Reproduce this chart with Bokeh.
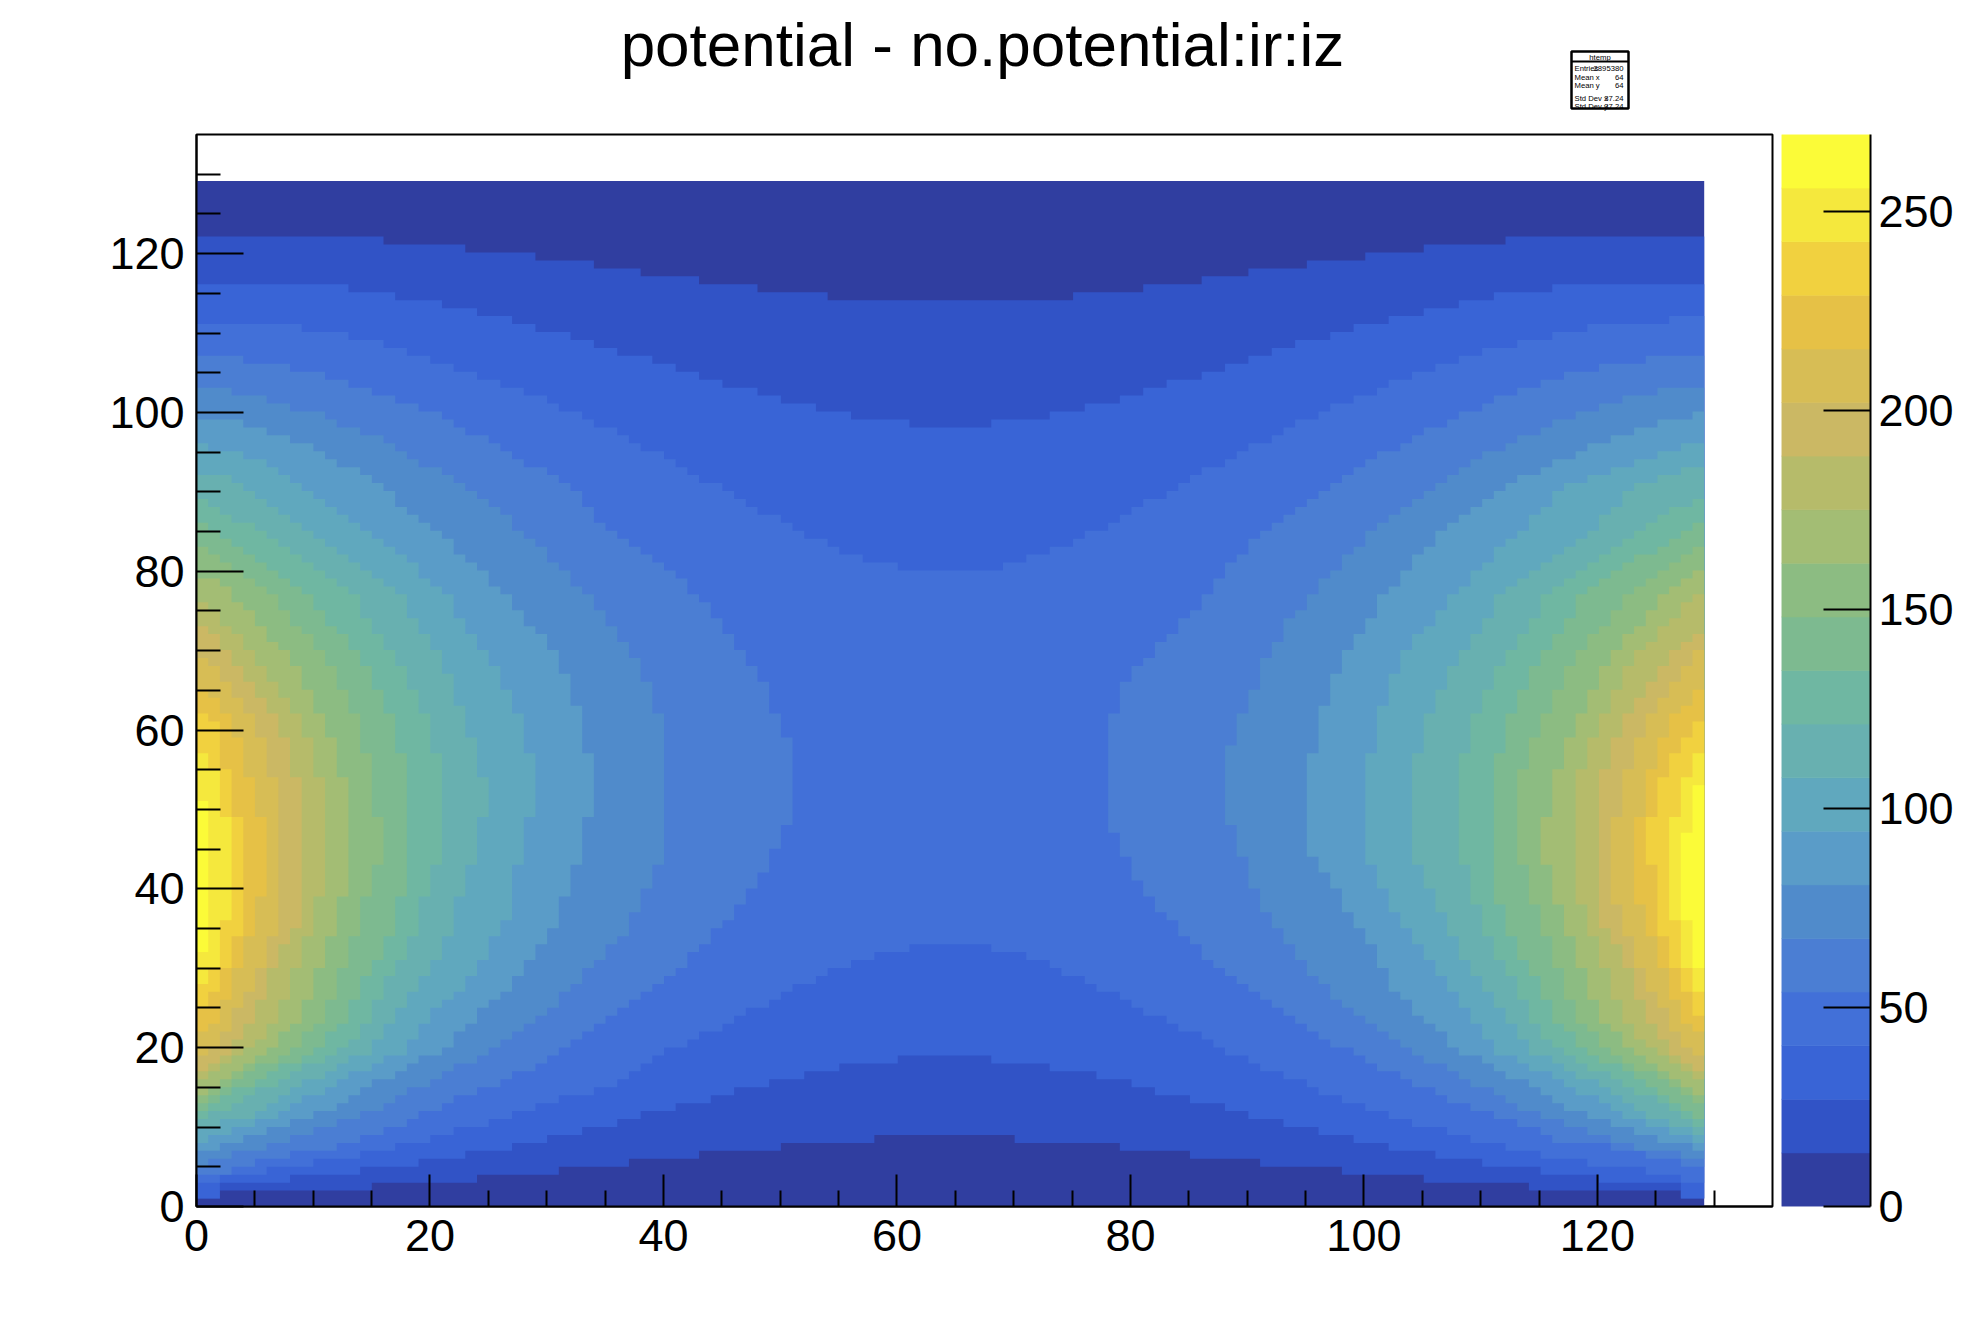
import numpy as np
from bokeh.core.properties import value
from bokeh.embed import file_html
from bokeh.layouts import column, row
from bokeh.models import FixedTicker
from bokeh.plotting import figure
from bokeh.resources import INLINE

TITLE = "potential - no.potential:ir:iz"
STAT_TITLE = "htemp"
STAT_NAMES = ["Entries", "Mean x", "Mean y", "Std Dev x", "Std Dev y"]
STAT_VALUES = ["2895380", "64", "64", "37.24", "37.24"]
X_TICKS = [0, 20, 40, 60, 80, 100, 120]
X_MINOR = [5, 10, 15, 25, 30, 35, 45, 50, 55, 65, 70, 75, 85, 90, 95, 105, 110, 115, 125, 130]
Y_TICKS = [0, 20, 40, 60, 80, 100, 120]
Y_MINOR = [5, 10, 15, 25, 30, 35, 45, 50, 55, 65, 70, 75, 85, 90, 95, 105, 110, 115, 125, 130]
Z_TICKS = [0, 50, 100, 150, 200, 250]
Z_MAX = 269.4
BAND_COLORS = ["#303ea0", "#3153c6", "#3964d6", "#4270d8", "#4b7ed3", "#508bcb", "#5a9cc8",
               "#60a8be", "#68b0b0", "#6fb7a2", "#7dba90", "#8cbc82", "#a3bd74", "#b6bb6a",
               "#cbb864", "#d7bd55", "#e6c146", "#f1d13f", "#f5e83d", "#fbfb38"]

# Contours: levels 1-3 span the whole width (top and bottom edge)
K1_TOP = [(0,122),(16,121.5),(23,120.5),(29,119.5),(34,118.5),(38,117.5),(43,116.5),(48,115.5),(54,114.5),(64.5,114),(75,114.5),(81,115.5),(86,116.5),(90,117.5),(95,118.5),(100,119.5),(105,120.5),(112,121.5),(129,122)]
K1_BOT = [(0,1),(2,1.5),(15,2.5),(24,3.5),(31,4.5),(37,5.5),(43,6.5),(50,7.5),(58,8.5),(64,9),(70,8.5),(79,7.5),(85,6.5),(91,5.5),(98,4.5),(105,3.5),(114,2.5),(127,1.5),(129,1)]
K2_TOP = [(0,116),(13,115.5),(17,114.5),(21,113.5),(24,112.5),(27,111.5),(29,110.5),(32,109.5),(34,108.5),(36,107.5),(39,106.5),(41,105.5),(43,104.5),(45,103.5),(48,102.5),(50,101.5),(53,100.5),(56,99.5),(61,98.5),(64.5,98),(68,98.5),(73,99.5),(76,100.5),(79,101.5),(81,102.5),(83,103.5),(86,104.5),(88,105.5),(90,106.5),(92,107.5),(94,108.5),(97,109.5),(99,110.5),(102,111.5),(105,112.5),(108,113.5),(111,114.5),(116,115.5),(129,116)]
K2_BOT = [(0,1),(2,1.5),(2,2.5),(8,3.5),(14,4.5),(19,5.5),(23,6.5),(27,7.5),(30,8.5),(33,9.5),(36,10.5),(38,11.5),(41,12.5),(44,13.5),(46,14.5),(49,15.5),(52,16.5),(55,17.5),(60,18.5),(64,19),(68,18.5),(73,17.5),(77,16.5),(80,15.5),(82,14.5),(85,13.5),(88,12.5),(90,11.5),(93,10.5),(96,9.5),(99,8.5),(102,7.5),(106,6.5),(110,5.5),(115,4.5),(120,3.5),(127,2.5),(127,1.5),(129,1)]
K3_TOP = [(0,111),(9,110.5),(13,109.5),(16,108.5),(18,107.5),(20,106.5),(22,105.5),(24,104.5),(26,103.5),(28,102.5),(30,101.5),(31,100.5),(33,99.5),(34,98.5),(36,97.5),(37,96.5),(38,95.5),(40,94.5),(41,93.5),(42,92.5),(43,91.5),(45,90.5),(46,89.5),(47,88.5),(48,87.5),(50,86.5),(51,85.5),(52,84.5),(54,83.5),(55,82.5),(57,81.5),(60,80.5),(64.5,80),(69,80.5),(71,81.5),(73,82.5),(75,83.5),(76,84.5),(78,85.5),(79,86.5),(80,87.5),(81,88.5),(83,89.5),(84,90.5),(85,91.5),(86,92.5),(88,93.5),(89,94.5),(90,95.5),(92,96.5),(93,97.5),(94,98.5),(96,99.5),(97,100.5),(99,101.5),(101,102.5),(102,103.5),(104,104.5),(106,105.5),(108,106.5),(110,107.5),(113,108.5),(116,109.5),(119,110.5),(126,111.5),(129,112)]
K3_BOT = [(0,3),(2,3.5),(6,4.5),(10,5.5),(14,6.5),(17,7.5),(20,8.5),(22,9.5),(25,10.5),(27,11.5),(29,12.5),(31,13.5),(34,14.5),(36,15.5),(37,16.5),(39,18.5),(40,19.5),(42,20.5),(43,21.5),(45,22.5),(46,23.5),(47,24.5),(49,25.5),(50,26.5),(51,27.5),(53,28.5),(54,29.5),(56,30.5),(58,31.5),(61,32.5),(64.5,33),(68,32.5),(71,31.5),(73,30.5),(74,29.5),(76,28.5),(77,27.5),(79,26.5),(80,25.5),(81,24.5),(83,23.5),(84,22.5),(86,21.5),(87,20.5),(88,19.5),(90,18.5),(91,17.5),(93,16.5),(95,15.5),(96,14.5),(98,13.5),(100,12.5),(102,11.5),(104,10.5),(107,9.5),(109,8.5),(112,7.5),(115,6.5),(119,5.5),(124,4.5),(127,3.5),(129,3.5)]

# Levels 4-19 form two separate blobs: one on the left edge, one on the right edge
L4 = [(0,107),(4,106.5),(8,105.5),(11,104.5),(13,103.5),(15,102.5),(17,101.5),(19,100.5),(21,99.5),(22,98.5),(23,97.5),(25,96.5),(26,95.5),(27,94.5),(28,93.5),(30,92.5),(31,91.5),(32,90.5),(33,89),(34,87),(35,86),(36,85),(37,84),(38,83),(39,81.5),(40,80.5),(41,79.5),(42,78),(43,76.5),(44,75),(45,73),(46,71),(47,69),(48,67),(49,64.5),(50,60.5),(51,58),(51,50),(50,46),(49,43),(48,41),(47,39),(46,37),(45,35),(44,34),(43,32),(42,31),(41,29),(40,28.5),(39,27.8),(38,26.8),(37,25.8),(36,24.8),(35,22.8),(33,21.8),(32,20.9),(31,19.9),(30,18.9),(29,17.8),(28,16.8),(26,15.8),(25,14.8),(23,13.8),(21,12.8),(20,11.8),(18,10.8),(17,9.8),(15,8.8),(13,7.8),(9,6.9),(6,5.9),(4,4.9),(1,3.9),(0,3.9)]
L5 = [(0,103),(3,102.5),(6,101.5),(8,100.5),(11,99.5),(12,98.5),(14,97.5),(16,96.5),(17,95.5),(18,94.5),(19,93.5),(21,92.5),(22,91.5),(23,90.5),(24,89.5),(25,88.5),(26,87.5),(27,86),(28,84.5),(29,83.5),(30,82),(31,80.5),(32,79),(33,77.5),(34,76),(35,74.5),(36,72.5),(37,70),(38,67.5),(39,64),(40,60),(40,45),(39,41),(38,38),(37,35),(36,33),(35,32),(34,30),(33,29),(32,27),(31,26),(30,24.5),(29,23.8),(25,19.6),(19.5,15.4),(14,11.2),(4.5,7),(1,5.5),(0,5)]
L6 = [(0,99),(3,98.9),(5,97.8),(7,96.8),(9,95.8),(11,94.8),(12,93.8),(13,92.8),(15,91.8),(16,90.8),(17,89),(19,87),(20,86),(26,77.6),(31,69.2),(33,60.8),(34,52.4),(33,44.9),(32,40.6),(31,36.4),(29,32.2),(27,28),(24,23.8),(21,19.6),(15,15.4),(10,11.2),(0.5,7),(0,7)]
L7 = [(0,96),(1,95.7),(3,94.8),(5,93.8),(7,92.8),(8,91.8),(9,90.8),(14,86),(21,77.6),(25,69.2),(28,60.8),(29,52.4),(28,44.9),(27,40.6),(26.5,36.4),(25,32.2),(23,28),(20,23.8),(18,19.6),(11.5,15.4),(7,11.2),(0,8)]
L8 = [(0,92),(2,91.8),(4,90.8),(9,86),(17,77.6),(21,69.2),(23,60.8),(25,52.4),(24,44.9),(23,40.6),(22,36.4),(21,32.2),(19,28),(17,23.8),(15,19.6),(9,15.4),(4.5,11.2),(0,10)]
L9 = [(0,89),(4,86),(13,77.6),(17,69.2),(20,60.8),(21,52.4),(21,44.9),(20,40.6),(19,36.4),(18,32.2),(16,28),(15,23.8),(12.5,19.6),(6.5,15.4),(0.5,11),(0,11)]
L10 = [(0,86.2),(1,86),(9,77.6),(14,69.2),(17,60.8),(18,52.4),(18,44.9),(18,40.6),(17,36.4),(16,32.2),(14,28),(13,23.8),(10,19.6),(4.5,15.4),(0,12)]
L11 = [(0,83.2),(1,83),(6,77.6),(11,69.2),(14,60.8),(15,52.4),(16,44.9),(15,40.6),(14,36.4),(13,32.2),(12,28),(11,23.8),(8,19.6),(3,15.4),(0,13)]
L12 = [(0,79.2),(1,79),(2.5,77.6),(8,69.2),(11,60.8),(13,52.4),(13,44.9),(13,40.6),(12,36.4),(11,32.2),(10,28),(9,23.8),(6,19.6),(1.5,15.4),(0,14)]
L13 = [(0,76.2),(1,76),(5,69.2),(9,60.8),(11,52.4),(11,44.9),(11,40.6),(10,36.4),(9,32.2),(8,28),(7,23.8),(4.5,19.6),(0,16)]
L14 = [(0,73.2),(1,73),(3,69.2),(7,60.8),(9,52.4),(9,44.9),(9,40.6),(9,36.4),(7,32.2),(6,28),(5,23.8),(3,19.6),(0,17)]
L15 = [(0,69.2),(1,69),(5,60.8),(7,52.4),(7,44.9),(7,40.6),(7,36.4),(6,32.2),(5,28),(3,23.8),(1.5,19.6),(0,19)]
L16 = [(0,65.2),(1,65),(3,60.8),(5,52.4),(6,44.9),(6,40.6),(5,36.4),(4,32.2),(3,28),(2,23.8),(0,21)]
L17 = [(0,62.2),(1,62),(1.5,60.8),(3,52.4),(4,44.9),(4,40.6),(4,36.4),(3,32.2),(2,28),(0,24)]
L18 = [(0,57.2),(1,57),(2,52.4),(3,44.9),(3,40.6),(2.5,36.4),(2,32.2),(1,28),(0,27)]
L19 = [(1,51),(1,32)]

R4 = [(129,107),(124,106.5),(120,105.5),(117,104.5),(115,103.5),(113,102.5),(111,101.5),(110,100.5),(108,99.5),(107,98.5),(105,97.5),(104,96.5),(103,95.5),(101,94.5),(100,93.5),(99,92.5),(98,91.5),(97,90.5),(96,89.5),(95,88.5),(94,87.5),(93,86.5),(92,85),(91,84),(90,83),(89,81.5),(88,79.5),(84,73),(80,67),(79,64),(78,60),(78,49),(79,45.5),(80,42.5),(81,40.5),(82,38.5),(83,36.5),(84,35.5),(85,33.5),(86,32.5),(87,30.5),(88,29.5),(89,28.5),(90,27.5),(91,26.5),(92,25.5),(93,24.5),(94,23.5),(95,22.5),(96,21.5),(97,20.5),(99,19.5),(100,18.5),(101,17.5),(103,16.5),(104,15.5),(106,14.5),(107,13.5),(109,12.5),(111,11.5),(113,10.5),(115,9.5),(116,8.5),(121,7.5),(124,6.5),(127,5.5),(129,5)]
R5 = [(129,103),(125,102.5),(122,101.5),(120,100.5),(118,99.5),(116,98.5),(115,97.5),(113,96.5),(112,95.5),(110,94.5),(109,93.5),(108,92.5),(107,91.5),(106,90.5),(105,89.5),(104,88.5),(103,87.5),(102,86.5),(101,85.5),(100,83.5),(99,82),(98,81),(97,79.5),(96,78),(95,76),(94,74.5),(93,72.5),(92,70),(91,67),(90,63),(89,60),(88,56),(88,50),(89,47),(90,42),(91,38),(92,36),(93,34),(94,32),(95,30),(96,28.5),(97,27),(98,25.5),(99,24.8),(100,23.8),(104,19.6),(109.5,15.4),(115,11.2),(124,7.2),(129,6)]
R6 = [(129,100),(128,99.5),(125,98.5),(123,97.5),(121,96.5),(119,95.5),(118,94.5),(116,93.5),(115,92.5),(113,91.5),(112,90.5),(107,86),(102,77.6),(98,69.2),(96,60.8),(95,52.4),(95,44.9),(97,40.6),(99,36.4),(101,32.2),(102,28),(105,23.8),(108,19.6),(114,15.4),(119,11.2),(129,7)]
R7 = [(129,96),(127,95.5),(125,94.5),(123,93.5),(121,92.5),(119,91.5),(117,90.5),(114,86),(108,77.6),(103,69.2),(101,60.8),(100,52.4),(100,44.9),(101,40.6),(103,36.4),(105,32.2),(107,28),(109,23.8),(111,19.6),(117.5,15.4),(122,11.2),(129,8)]
R8 = [(129,93),(127,92.5),(125,91.5),(123,90.5),(120,86),(112,77.6),(108,69.2),(105,60.8),(104,52.4),(104,44.9),(105,40.6),(107,36.4),(108,32.2),(110,28),(112,23.8),(114,19.6),(120,15.4),(124.5,11.2),(129,9)]
R9 = [(129,89),(124,86),(116,77.6),(112,69.2),(109,60.8),(108,52.4),(108,44.9),(109,40.6),(110,36.4),(111,32.2),(113,28),(114,23.8),(116.5,19.6),(122.5,15.4),(127,11.2),(129,10)]
R10 = [(129,86),(128,85.5),(119,77.6),(115,69.2),(112,60.8),(111,52.4),(111,44.9),(111,40.6),(112,36.4),(113,32.2),(115,28),(116,23.8),(119,19.6),(124.5,15.4),(129,11)]
R11 = [(129,83),(128,82.5),(123,77.6),(118,69.2),(115,60.8),(113,52.4),(113,44.9),(114,40.6),(115,36.4),(116,32.2),(117,28),(118,23.8),(121,19.6),(126,15.4),(129,12)]
R12 = [(129,80),(128,79.5),(126,77.6),(121,69.2),(118,60.8),(116,52.4),(115,44.9),(116,40.6),(117,36.4),(118,32.2),(119,28),(120,23.8),(123,19.6),(127.5,15.4),(129,14)]
R13 = [(129,77),(128,76.5),(123,69.2),(120,60.8),(118,52.4),(118,44.9),(118,40.6),(119,36.4),(120,32.2),(121,28),(122,23.8),(124.5,19.6),(129,15)]
R14 = [(129,73),(126,69.2),(122,60.8),(120,52.4),(120,44.9),(120,40.6),(120,36.4),(122,32.2),(123,28),(124,23.8),(126,19.6),(129,17)]
R15 = [(129,70),(128,69.2),(124,60.8),(122,52.4),(121,44.9),(121,40.6),(122,36.4),(123,32.2),(124,28),(126,23.8),(127.5,19.6),(129,19)]
R16 = [(129,66),(126,60.8),(124,52.4),(123,44.9),(123,40.6),(124,36.4),(125,32.2),(126,28),(127,23.8),(129,21)]
R17 = [(129,62),(128,60.8),(125,52.4),(124,44.9),(125,40.6),(125,36.4),(126,32.2),(127,28),(128.5,23.8),(129,23)]
R18 = [(129,58),(127,52.4),(126,44.9),(126,40.6),(126.5,36.4),(127,32.2),(128,28),(129,26)]
R19 = [(129,53),(128,52.9),(128,47.5),(127,46.5),(127,36),(128,35.5),(128,30),(129,30)]

N_BINS = 129
DATA_END = 129.15
LEFT_BLOBS = [L4, L5, L6, L7, L8, L9, L10, L11, L12, L13, L14, L15, L16, L17, L18, L19]
RIGHT_BLOBS = [R4, R5, R6, R7, R8, R9, R10, R11, R12, R13, R14, R15, R16, R17, R18, R19]
SPANS = [(K1_TOP, K1_BOT), (K2_TOP, K2_BOT), (K3_TOP, K3_BOT)]


def inside(px, py, poly):
    vx = np.array([p[0] for p in poly], float)
    vy = np.array([p[1] for p in poly], float)
    result = np.zeros(px.shape, bool)
    for i in range(len(vx)):
        j = i - 1
        if vy[i] == vy[j]:
            continue
        crosses = (vy[i] > py) != (vy[j] > py)
        xc = vx[i] + (py - vy[i]) * (vx[j] - vx[i]) / (vy[j] - vy[i])
        result ^= crosses & (px < xc)
    return result


def span_poly(top, bot):
    return [(-1, top[0][1])] + top + [(130, top[-1][1]), (130, bot[-1][1])] + bot[::-1] + [(-1, bot[0][1])]


def side_poly(c, edge):
    return [(edge, c[0][1])] + c + [(edge, c[-1][1])]


def stair_loops(mask):
    """Outlines of a cell mask, as closed loops of cell corners."""
    n = mask.shape[0]
    m = np.zeros((n + 2, n + 2), bool)
    m[1:-1, 1:-1] = mask
    nxt = {}

    def add(a, b):
        nxt.setdefault(a, []).append(b)

    for r, c in zip(*np.nonzero(mask)):
        r, c = int(r), int(c)
        if not m[r, c + 1]:
            add((c, r), (c + 1, r))
        if not m[r + 1, c + 2]:
            add((c + 1, r), (c + 1, r + 1))
        if not m[r + 2, c + 1]:
            add((c + 1, r + 1), (c, r + 1))
        if not m[r + 1, c]:
            add((c, r + 1), (c, r))
    loops = []
    while nxt:
        start = next(iter(nxt))
        loop, cur = [start], start
        while True:
            targets = nxt[cur]
            t = targets.pop()
            if not targets:
                del nxt[cur]
            if t == start:
                break
            loop.append(t)
            cur = t
        loops.append(loop)
    return loops


cx, cy = np.meshgrid(np.arange(N_BINS) + 0.5, np.arange(N_BINS) + 0.5)
band = np.zeros((N_BINS, N_BINS), int)
for k, (top, bot) in enumerate(SPANS, start=1):
    band[inside(cx, cy, span_poly(top, bot))] = k
for k, (lc, rc) in enumerate(zip(LEFT_BLOBS, RIGHT_BLOBS), start=4):
    band[inside(cx, cy, side_poly(lc, -1))] = k
    band[inside(cx, cy, side_poly(rc, 130))] = k

edges = np.linspace(0, DATA_END, N_BINS + 1)
patch_xs, patch_ys, patch_colors = [], [], []
for k, color in enumerate(BAND_COLORS):
    for loop in stair_loops(band >= k):
        patch_xs.append([float(edges[a]) for a, b in loop])
        patch_ys.append([float(edges[b]) for a, b in loop])
        patch_colors.append(color)

FONT = "Liberation Sans"
HEADER_H = 132

p = figure(width=1776, height=1188, x_range=(0, 135), y_range=(0, 135), output_backend="svg",
           toolbar_location=None, min_border_left=196, min_border_right=4, min_border_top=2,
           min_border_bottom=114)
p.grid.visible = False
p.outline_line_color = "black"
p.outline_line_width = 2
p.background_fill_color = "white"
p.patches(patch_xs, patch_ys, fill_color=patch_colors, line_color=None)

p.xaxis.ticker = FixedTicker(ticks=X_TICKS, minor_ticks=X_MINOR)
p.yaxis.ticker = FixedTicker(ticks=Y_TICKS, minor_ticks=Y_MINOR)
for ax, major, minor in ((p.xaxis, 32, 16), (p.yaxis, 47, 24)):
    ax.major_tick_in = major
    ax.major_tick_out = 0
    ax.minor_tick_in = minor
    ax.minor_tick_out = 0
    ax.axis_line_width = 2
    ax.axis_line_color = "black"
    ax.major_tick_line_color = "black"
    ax.minor_tick_line_color = "black"
    ax.major_tick_line_width = 2
    ax.minor_tick_line_width = 2
    ax.major_label_text_font = FONT
    ax.major_label_text_font_size = "45px"
    ax.major_label_text_color = "black"
p.xaxis.major_label_standoff = 13
p.yaxis.major_label_standoff = 12

# Header strip drawn in page pixels: title and statistics box
head = figure(width=1960, height=HEADER_H, x_range=(0, 1960), y_range=(HEADER_H, 0),
              output_backend="svg", toolbar_location=None, min_border=0)
head.axis.visible = False
head.grid.visible = False
head.outline_line_color = None
head.text(x=[982], y=[43.5], text=[TITLE], text_font=value(FONT), text_font_size="62px",
          text_align="center", text_baseline="alphabetic", text_color="black")
head.quad(left=[1571], right=[1628], top=[51], bottom=[108], fill_color="white",
          line_color="black", line_width=2.5)
head.line(x=[1571, 1628], y=[61, 61], line_color="black", line_width=2)
head.text(x=[1599.5], y=[57], text=[STAT_TITLE], text_font=value(FONT), text_font_size="7.7px",
          text_align="center", text_baseline="middle", text_color="black")
stat_y = [68, 77, 85, 98, 106]
head.text(x=[1574] * 5, y=stat_y, text=STAT_NAMES, text_font=value(FONT), text_font_size="7.7px",
          text_align="left", text_baseline="middle", text_color="black")
head.text(x=[1623] * 5, y=stat_y, text=STAT_VALUES, text_font=value(FONT), text_font_size="7.7px",
          text_align="right", text_baseline="middle", text_color="black")

cb = figure(width=184, height=1188, x_range=(0, 1), y_range=(0, Z_MAX), output_backend="svg",
            toolbar_location=None, y_axis_location="right", min_border_left=5, min_border_right=90,
            min_border_top=2, min_border_bottom=114)
cb.grid.visible = False
cb.xaxis.visible = False
cb.outline_line_color = None
z_edges = np.linspace(0, Z_MAX, len(BAND_COLORS) + 1)
cb.quad(left=0, right=1, bottom=z_edges[:-1], top=z_edges[1:], fill_color=BAND_COLORS,
        line_color=BAND_COLORS, line_width=0.6)
cb.yaxis.ticker = FixedTicker(ticks=Z_TICKS)
cb.yaxis.major_tick_in = 47
cb.yaxis.major_tick_out = 0
cb.yaxis.minor_tick_in = 0
cb.yaxis.minor_tick_out = 0
cb.yaxis.axis_line_width = 2
cb.yaxis.axis_line_color = "black"
cb.yaxis.major_tick_line_color = "black"
cb.yaxis.major_tick_line_width = 2
cb.yaxis.major_label_text_font = FONT
cb.yaxis.major_label_text_font_size = "45px"
cb.yaxis.major_label_text_color = "black"
cb.yaxis.major_label_standoff = 8

page = column(head, row(p, cb))
open("out.html", "w").write(file_html(page, INLINE))
